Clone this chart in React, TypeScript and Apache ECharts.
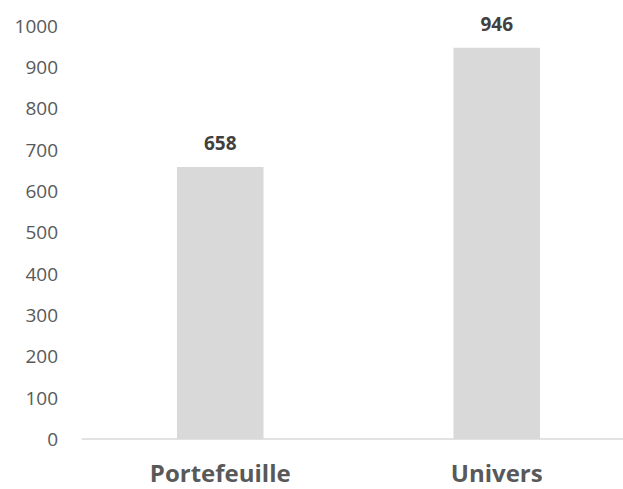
import React, { useEffect, useRef } from "react";
import * as echarts from "echarts";

const categories = ["Portefeuille", "Univers"];
const values = [658, 946];
const yMin = 0;
const yMax = 1000;
const yInterval = 100;

export default function App() {
  const ref = useRef<HTMLDivElement>(null);
  useEffect(() => {
    if (!ref.current) return;
    const chart = echarts.init(ref.current, null, { renderer: "svg" });
    chart.setOption({
      animation: false,
      grid: { left: 82, right: 0, top: 25.5, bottom: 50, containLabel: false },
      xAxis: {
        type: "category",
        data: categories,
        axisLine: { show: true, lineStyle: { color: "#d9d9d9", width: 1.5 } },
        axisTick: { show: false },
        axisLabel: {
          color: "#595959",
          fontFamily: "Open Sans",
          fontWeight: "bold",
          fontSize: 24,
          margin: 21,
        },
      },
      yAxis: {
        type: "value",
        min: yMin,
        max: yMax,
        interval: yInterval,
        splitLine: { show: false },
        axisLine: { show: false },
        axisTick: { show: false },
        axisLabel: {
          color: "#595959",
          fontFamily: "Open Sans",
          fontSize: 19,
          margin: 24,
          formatter: (v: number) => String(v),
        },
      },
      series: [
        {
          type: "bar",
          data: values,
          barWidth: "31.3%",
          itemStyle: { color: "#d9d9d9" },
          label: {
            show: true,
            position: "top",
            distance: 14,
            color: "#404040",
            fontFamily: "Open Sans",
            fontWeight: "bold",
            fontSize: 19,
          },
        },
      ],
    });
    return () => chart.dispose();
  }, []);
  return (
    <div style={{ width: 623, height: 489, position: "absolute", left: 0, top: 0, overflow: "hidden" }}>
      <div ref={ref} style={{ width: 635, height: 489 }} />
    </div>
  );
}
